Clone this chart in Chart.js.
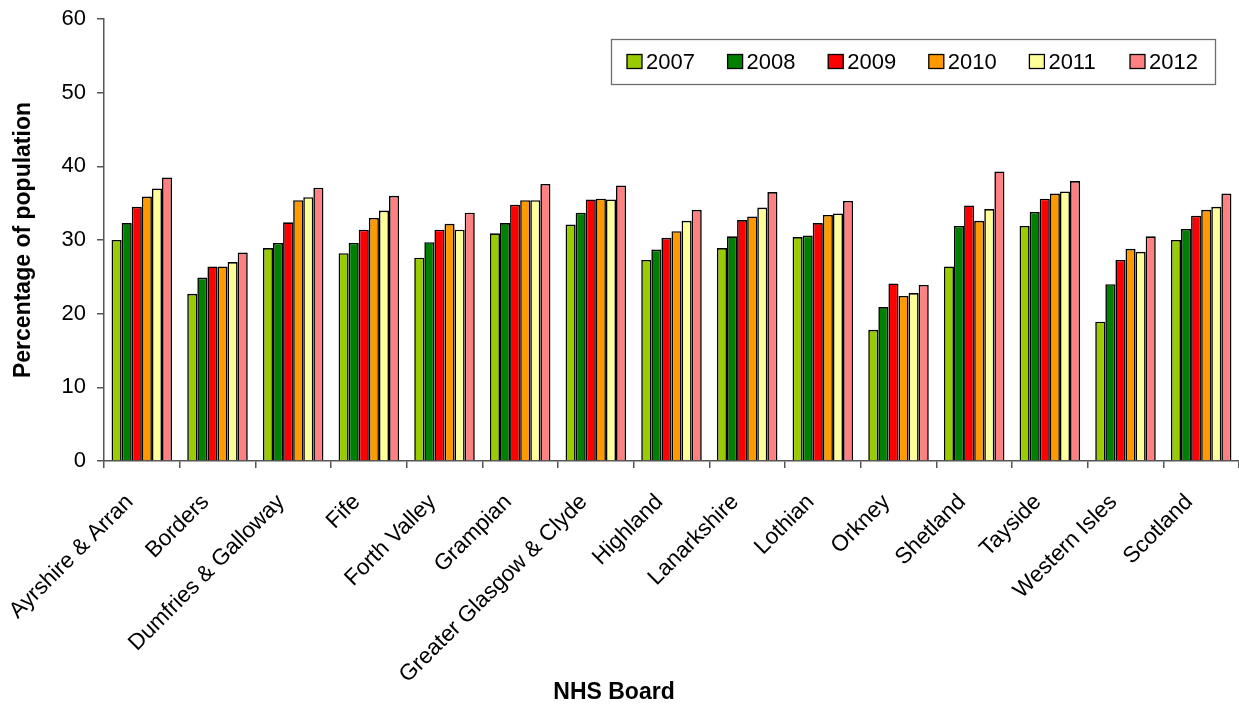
<!DOCTYPE html>
<html>
<head>
<meta charset="utf-8">
<script src="https://cdn.jsdelivr.net/npm/chart.js@4.4.1/dist/chart.umd.min.js"></script>
<style>
  html, body { margin: 0; padding: 0; background: #fff; }
  #wrap { width: 1239px; height: 704px; position: relative; }
</style>
</head>
<body>
<div id="wrap"><canvas id="chart" width="1239" height="704"></canvas></div>
<script>
// NHS boards on the category axis
const boards = [
  'Ayrshire & Arran', 'Borders', 'Dumfries & Galloway', 'Fife', 'Forth Valley',
  'Grampian', 'Greater Glasgow & Clyde', 'Highland', 'Lanarkshire', 'Lothian',
  'Orkney', 'Shetland', 'Tayside', 'Western Isles', 'Scotland'
];

// Percentage of population, one array per year
const years = ['2007', '2008', '2009', '2010', '2011', '2012'];
const pct2007 = [30.0, 22.7, 28.9, 28.2, 27.6, 30.9, 32.1, 27.3, 28.9, 30.4, 17.8, 26.4, 31.9, 18.9, 30.0];
const pct2008 = [32.3, 24.9, 29.6, 29.6, 29.7, 32.3, 33.7, 28.7, 30.5, 30.6, 20.9, 31.9, 33.8, 24.0, 31.5];
const pct2009 = [34.5, 26.4, 32.4, 31.4, 31.4, 34.8, 35.5, 30.3, 32.7, 32.3, 24.1, 34.7, 35.6, 27.3, 33.3];
const pct2010 = [35.9, 26.4, 35.4, 33.0, 32.2, 35.4, 35.6, 31.2, 33.2, 33.4, 22.4, 32.6, 36.3, 28.8, 34.1];
const pct2011 = [37.0, 27.0, 35.8, 34.0, 31.4, 35.4, 35.5, 32.6, 34.4, 33.6, 22.8, 34.2, 36.6, 28.4, 34.5];
const pct2012 = [38.5, 28.3, 37.1, 36.0, 33.7, 37.6, 37.4, 34.1, 36.5, 35.3, 23.9, 39.3, 38.0, 30.5, 36.3];

// y-axis tick values
const yTicks = [0, 10, 20, 30, 40, 50, 60];

const seriesValues = [pct2007, pct2008, pct2009, pct2010, pct2011, pct2012];
const seriesColors = ['#99CC00', '#008000', '#FF0000', '#FF9900', '#FFFF99', '#FF8080'];

const FONT = "'Liberation Sans', Arial, sans-serif";

// Boxed legend inside the plot area, plus the category-axis caption
const boxLegend = {
  id: 'boxLegend',
  afterDraw(chart, args, opts) {
    const ctx = chart.ctx;
    const { left, top, width, height, itemPitch, swatchW, swatchH, fontSize } = opts;
    ctx.save();
    ctx.fillStyle = '#fff';
    ctx.fillRect(left, top, width, height);
    ctx.strokeStyle = '#6e6e6e';
    ctx.lineWidth = 1.3;
    ctx.strokeRect(left + 0.5, top + 0.5, width, height);
    ctx.font = fontSize + 'px ' + FONT;
    ctx.textBaseline = 'middle';
    ctx.textAlign = 'left';
    const cy = top + height / 2;
    chart.data.datasets.forEach((ds, i) => {
      const x = left + 16 + i * itemPitch;
      ctx.fillStyle = ds.backgroundColor;
      ctx.fillRect(x, cy - swatchH / 2, swatchW, swatchH);
      ctx.strokeStyle = '#000';
      ctx.lineWidth = 1.3;
      ctx.strokeRect(x, cy - swatchH / 2, swatchW, swatchH);
      ctx.fillStyle = '#000';
      ctx.fillText(ds.label, x + swatchW + 4, cy + 1);
    });

    // axis caption under the rotated board names
    const cap = opts.caption;
    ctx.font = 'bold ' + cap.size + 'px ' + FONT;
    ctx.textAlign = 'center';
    ctx.textBaseline = 'middle';
    ctx.fillStyle = '#000';
    ctx.fillText(cap.text, cap.x, cap.y);
    ctx.restore();
  }
};

const datasets = years.map((y, i) => ({
  label: y,
  data: seriesValues[i],
  backgroundColor: seriesColors[i],
  borderColor: '#000',
  borderWidth: 1.6,
  borderSkipped: 'bottom',
  categoryPercentage: 0.8,
  barPercentage: 1.0
}));

new Chart(document.getElementById('chart'), {
  type: 'bar',
  data: { labels: boards, datasets },
  plugins: [boxLegend],
  options: {
    responsive: false,
    animation: false,
    layout: { padding: { left: 0, right: 0, top: 19, bottom: 0 } },
    plugins: {
      legend: { display: false },
      tooltip: { enabled: false },
      title: { display: false },
      boxLegend: {
        left: 611, top: 39, width: 604, height: 45, itemPitch: 100.6, swatchW: 15, swatchH: 14, fontSize: 22,
        caption: { text: 'NHS Board', x: 614, y: 693, size: 23 }
      }
    },
    scales: {
      x: {
        offset: true,
        grid: { display: true, offset: true, drawOnChartArea: false, drawTicks: true, tickLength: 7, color: '#555', lineWidth: 1.5 },
        border: { display: true, color: '#555', width: 1.5 },
        ticks: {
          autoSkip: false, maxRotation: 45, minRotation: 45, padding: 21, labelOffset: -12,
          color: '#000', font: { family: FONT, size: 22.5 }
        },
        afterFit(scale) {
          scale.height = 243;
          scale.paddingLeft = 0;
          scale.paddingRight = 0;
        }
      },
      y: {
        min: 0, max: 60,
        afterBuildTicks(scale) { scale.ticks = yTicks.map(v => ({ value: v })); },
        grid: { display: true, drawOnChartArea: false, drawTicks: true, tickLength: 7, color: '#555', lineWidth: 1.5 },
        border: { display: true, color: '#555', width: 1.5 },
        ticks: { padding: 11, color: '#000', font: { family: FONT, size: 22 } },
        title: {
          display: true,
          text: 'Percentage of population',
          color: '#000',
          font: { family: FONT, size: 23, weight: 'bold' },
          padding: { top: 10, bottom: 0 }
        },
        afterFit(scale) {
          scale.width = 104;
          scale.paddingTop = 0;
          scale.paddingBottom = 0;
        }
      }
    }
  }
});
</script>
</body>
</html>
